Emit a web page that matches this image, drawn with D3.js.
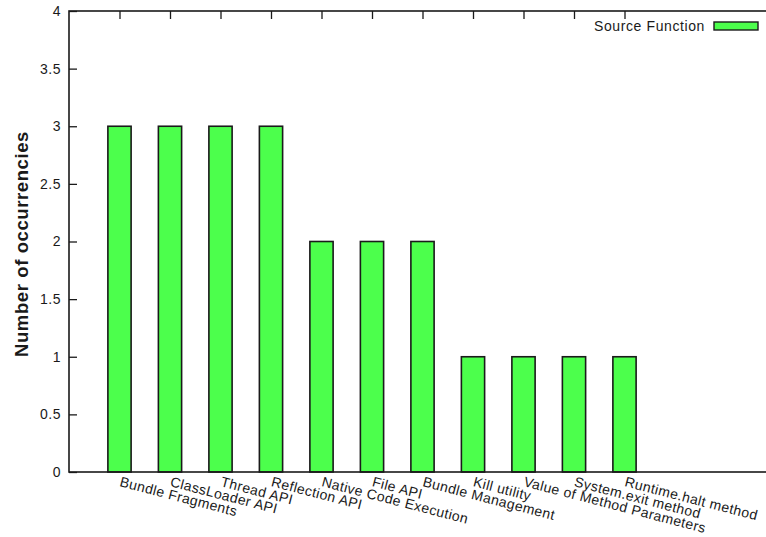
<!DOCTYPE html>
<html>
<head>
<meta charset="utf-8">
<script src="https://cdn.jsdelivr.net/npm/d3@7"></script>
<style>
  html, body { margin: 0; padding: 0; background: #fff; }
  svg { display: block; font-family: "Liberation Sans", Arial, Helvetica, sans-serif; }
</style>
</head>
<body>
<svg id="chart" width="766" height="537"></svg>
<script>
// Source functions and how often each occurs
const categories = [
  "Bundle Fragments", "ClassLoader API", "Thread API", "Reflection API",
  "Native Code Execution", "File API", "Bundle Management", "Kill utility",
  "Value of Method Parameters", "System.exit method", "Runtime.halt method"
];
const occurrences = [3, 3, 3, 3, 2, 2, 2, 1, 1, 1, 1];
const yTicks = [0, 0.5, 1, 1.5, 2, 2.5, 3, 3.5, 4];
const seriesName = "Source Function";
const yLabel = "Number of occurrencies";

const svg = d3.select("#chart");
const frame = { left: 69, top: 11, bottom: 472, right: 776 };

// x positions are category indices; the frame runs from -1 to 13
const x = d3.scaleLinear().domain([-1, 13]).range([frame.left, frame.right]);
const y = d3.scaleLinear().domain([0, 4]).range([frame.bottom, frame.top]);
const barW = 0.46;
const green = "#4cff4c";
const ink = "#1a1a1a";

// bottom axis ticks (drawn first, bars sit over them)
const xAxisB = d3.axisBottom(x).tickValues(d3.range(categories.length))
  .tickSize(-8).tickFormat("");
const gxb = svg.append("g").attr("transform", `translate(0,${frame.bottom})`).call(xAxisB);
gxb.select(".domain").remove();
gxb.selectAll("line").attr("stroke", ink).attr("stroke-width", 1.3);

// top mirror ticks
const xAxisT = d3.axisTop(x).tickValues(d3.range(categories.length))
  .tickSize(-8).tickFormat("");
const gxt = svg.append("g").attr("transform", `translate(0,${frame.top})`).call(xAxisT);
gxt.select(".domain").remove();
gxt.selectAll("line").attr("stroke", ink).attr("stroke-width", 1.3);

// y axis ticks pointing inward
const yAxis = d3.axisLeft(y).tickValues(yTicks).tickSize(-8).tickPadding(8)
  .tickFormat(d => String(d));
const gy = svg.append("g").attr("transform", `translate(${frame.left},0)`).call(yAxis);
gy.select(".domain").remove();
gy.selectAll("line").attr("stroke", ink).attr("stroke-width", 1.3);
gy.selectAll("text").attr("font-size", 14).attr("fill", ink)
  .attr("letter-spacing", 0.5)
  .attr("font-family", "'Liberation Sans', Arial, sans-serif");

// bars
svg.append("g").selectAll("rect")
  .data(occurrences)
  .join("rect")
  .attr("x", (d, i) => x(i - barW / 2))
  .attr("width", x(barW) - x(0))
  .attr("y", d => y(d))
  .attr("height", d => y(0) - y(d))
  .attr("fill", green)
  .attr("stroke", ink)
  .attr("stroke-width", 1.6);

// frame
svg.append("rect")
  .attr("x", frame.left).attr("y", frame.top)
  .attr("width", frame.right - frame.left).attr("height", frame.bottom - frame.top)
  .attr("fill", "none").attr("stroke", ink).attr("stroke-width", 1.6);

// slanted category labels
svg.append("g").selectAll("text")
  .data(categories)
  .join("text")
  .attr("transform", (d, i) => `translate(${x(i) + 2},${frame.bottom + 4}) rotate(14.5)`)
  .attr("dominant-baseline", "hanging")
  .attr("font-size", 14)
  .attr("letter-spacing", 0.4)
  .attr("fill", ink)
  .text(d => d);

// y axis title
svg.append("text")
  .attr("transform", `translate(28,244) rotate(-90)`)
  .attr("text-anchor", "middle")
  .attr("font-size", 18.5)
  .attr("font-weight", "bold")
  .attr("letter-spacing", 0.6)
  .attr("fill", ink)
  .text(yLabel);

// legend
svg.append("text")
  .attr("x", 705).attr("y", 31)
  .attr("text-anchor", "end")
  .attr("font-size", 14)
  .attr("letter-spacing", 0.6)
  .attr("fill", ink)
  .text(seriesName);
svg.append("rect")
  .attr("x", 714).attr("y", 22).attr("width", 44).attr("height", 8)
  .attr("fill", green).attr("stroke", ink).attr("stroke-width", 1.4);
</script>
</body>
</html>
